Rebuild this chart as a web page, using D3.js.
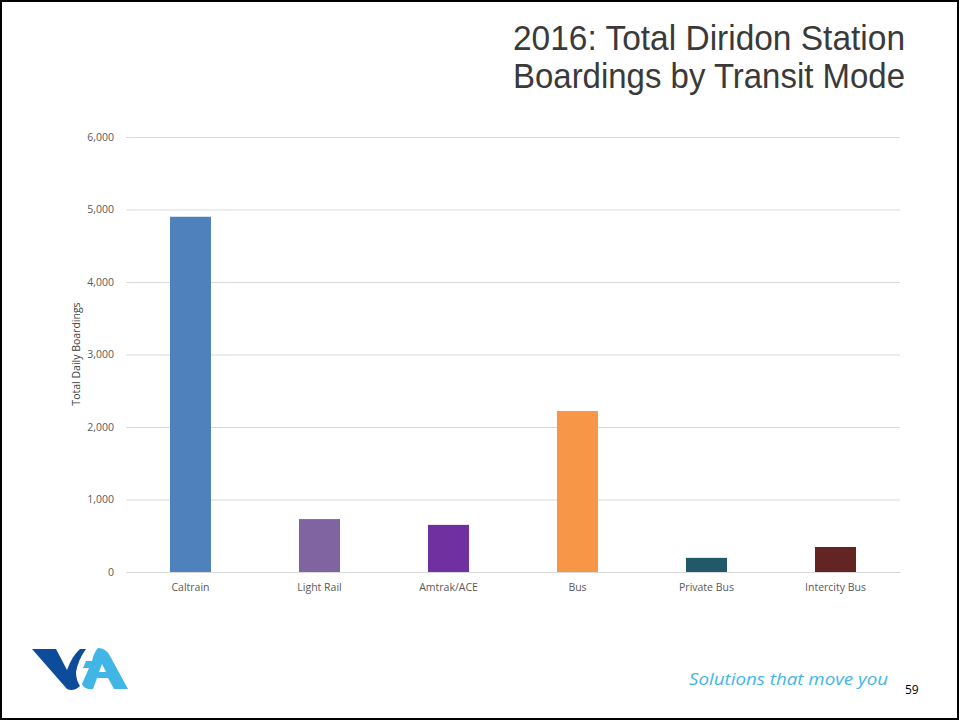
<!DOCTYPE html>
<html><head><meta charset="utf-8">
<script src="https://cdn.jsdelivr.net/npm/d3@7"></script>
<style>body{margin:0;background:#fff}svg{display:block}</style>
</head><body>
<script>
const categories = ["Caltrain","Light Rail","Amtrak/ACE","Bus","Private Bus","Intercity Bus"];
const values = [4900, 730, 650, 2220, 195, 345];
const colors = ["#4F81BD","#8064A2","#7030A0","#F79646","#215968","#632523"];
const yTicks = [0,1000,2000,3000,4000,5000,6000];

const W=960,H=721;
const svg=d3.select("body").append("svg").attr("width",W).attr("height",H);
svg.append("rect").attr("x",1).attr("y",1).attr("width",W-3).attr("height",H-3)
  .attr("fill","#fff").attr("stroke","#000").attr("stroke-width",2);

const tfont="Liberation Sans, Arial, sans-serif";
svg.append("text").attr("x",905).attr("y",50).attr("text-anchor","end").attr("font-family",tfont)
  .attr("font-size",35).attr("fill","#3a3a3a").attr("textLength",392).attr("lengthAdjust","spacingAndGlyphs")
  .text("2016: Total Diridon Station");
svg.append("text").attr("x",905).attr("y",88).attr("text-anchor","end").attr("font-family",tfont)
  .attr("font-size",35).attr("fill","#3a3a3a").attr("textLength",392).attr("lengthAdjust","spacingAndGlyphs")
  .text("Boardings by Transit Mode");

const m={l:126,r:900,t:137,b:572};
const x=d3.scaleBand().domain(categories).range([m.l,m.r]).paddingInner(0.682).paddingOuter(0.341);
const y=d3.scaleLinear().domain([0,6000]).range([m.b,m.t]);

const font="Open Sans, Liberation Sans, sans-serif";
const gy=svg.append("g").attr("transform",`translate(${m.l},0)`)
  .call(d3.axisLeft(y).tickValues(yTicks).tickFormat(d3.format(",")).tickSize(-(m.r-m.l)).tickPadding(12));
gy.select(".domain").remove();
gy.selectAll(".tick line").attr("stroke","#d9d9d9").attr("stroke-width",1);
gy.selectAll(".tick text").attr("font-family",font).attr("font-size",10.5).attr("fill","#595959");

svg.append("g").selectAll("rect").data(values).join("rect")
  .attr("x",(d,i)=>x(categories[i])).attr("width",x.bandwidth())
  .attr("y",d=>y(d)).attr("height",d=>y(0)-y(d)).attr("fill",(d,i)=>colors[i]);

const gx=svg.append("g").attr("transform",`translate(0,${m.b})`)
  .call(d3.axisBottom(x).tickSize(0).tickPadding(12));
gx.select(".domain").attr("stroke","#d9d9d9");
gx.selectAll(".tick text").attr("font-family",font).attr("font-size",10.5).attr("fill","#595959");

svg.append("text").attr("transform","translate(80,354) rotate(-90)").attr("text-anchor","middle")
  .attr("font-family",font).attr("font-size",10.5).attr("fill","#404040").text("Total Daily Boardings");

// logo
const logo=svg.append("g");
logo.append("path").attr("d","M32,649 L56,649 L67,670 Q72,656 80,649 L86,649 Q78,660 76,672 Q76,680 80,686 Q74,692 67,689 Z").attr("fill","#0D4C9A");
logo.append("path").attr("d","M98,648 Q106,648 110,656 L128,689 L114,689 L108,678 L97,678 L93,689 Q84,690 82,684 L89,668 L83,668 L86,661 L92,661 Q94,652 98,648 Z").attr("fill","#41B6E6");
logo.append("path").attr("d","M99,672 L106,672 L102,664 Z").attr("fill","#fff");

svg.append("text").attr("x",888).attr("y",685).attr("text-anchor","end").attr("font-family",font)
  .attr("font-style","italic").attr("font-size",17).attr("fill","#41B6E6")
  .attr("textLength",199).attr("lengthAdjust","spacingAndGlyphs").text("Solutions that move you");
svg.append("text").attr("x",905).attr("y",694).attr("font-family",font).attr("font-size",12).attr("fill","#000").text("59");
</script>
</body></html>
